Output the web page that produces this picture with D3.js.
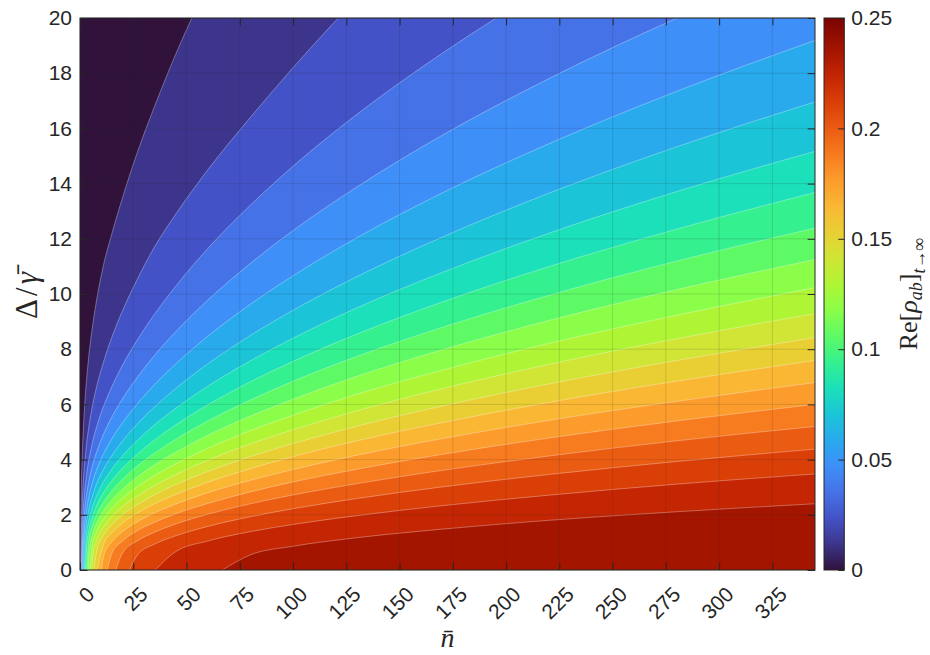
<!DOCTYPE html>
<html>
<head>
<meta charset="utf-8">
<script src="https://cdn.jsdelivr.net/npm/d3@7/dist/d3.min.js"></script>
<style>
html,body{margin:0;padding:0;background:#ffffff;}
svg{display:block;}
</style>
</head>
<body>
<svg id="chart" width="930" height="655"></svg>
<script>
// ---------------- data ----------------
const nTickValues = [0, 25, 50, 75, 100, 125, 150, 175, 200, 225, 250, 275, 300, 325];
const deltaTickValues = [0, 2, 4, 6, 8, 10, 12, 14, 16, 18, 20];
const colorbarTickValues = [0, 0.05, 0.1, 0.15, 0.2, 0.25];

// the 20 filled-contour levels of Re[rho_ab]
const contourLevels = [0.0118, 0.0235, 0.0353, 0.0470, 0.0588, 0.0706, 0.0823, 0.0941, 0.1059, 0.1176,
                       0.1294, 0.1411, 0.1529, 0.1647, 0.1764, 0.1882, 0.1999, 0.2117, 0.2235, 0.2352];

// n-bar where each level's boundary meets the bottom axis (Delta = 0)
const levelStartN = [0.21, 0.44, 0.69, 0.97, 1.29, 1.65, 2.06, 2.53, 3.08, 3.73,
                     4.50, 5.45, 6.61, 8.10, 10.07, 12.79, 16.78, 23.22, 35.38, 66.9];

// n-bar columns at which the boundary heights are read
const boundaryN = [0.3, 0.6, 1, 1.5, 2, 3, 4, 6, 8, 11, 15, 20, 27, 35, 45, 60, 80, 100, 130, 170, 220, 280, 345];

// Delta/gamma of each level boundary, for the columns after its start point
const boundaryDelta = [
  [1.45, 2.93, 4.04, 5.00, 5.73, 6.82, 7.65, 8.90, 9.87, 11.04, 12.2, 13.5, 15.15, 16.8, 18.7, 21.2, 23.9],
  [1.30, 2.35, 3.13, 3.69, 4.51, 5.11, 6.01, 6.70, 7.53, 8.44, 9.40, 10.55, 11.71, 12.9, 14.5, 16.4, 18.2, 20.7, 23.5],
  [1.39, 2.17, 2.69, 3.40, 3.92, 4.67, 5.24, 5.92, 6.65, 7.43, 8.35, 9.27, 10.29, 11.65, 13.22, 14.63, 16.51, 18.72, 21.16, 23.75],
  [0.34, 1.47, 2.00, 2.68, 3.15, 3.83, 4.32, 4.91, 5.55, 6.21, 6.99, 7.78, 8.64, 9.78, 11.11, 12.30, 13.88, 15.75, 17.80, 19.99, 22.12],
  [0.80, 1.44, 2.14, 2.59, 3.21, 3.67, 4.20, 4.76, 5.34, 6.03, 6.72, 7.47, 8.47, 9.63, 10.66, 12.04, 13.66, 15.44, 17.34, 19.19],
  [0.90, 1.68, 2.13, 2.73, 3.16, 3.64, 4.15, 4.68, 5.30, 5.91, 6.58, 7.47, 8.50, 9.41, 10.63, 12.06, 13.65, 15.33, 16.96],
  [1.25, 1.73, 2.33, 2.73, 3.19, 3.66, 4.14, 4.70, 5.26, 5.86, 6.66, 7.58, 8.40, 9.50, 10.78, 12.20, 13.71, 15.17],
  [0.80, 1.36, 1.97, 2.36, 2.80, 3.24, 3.69, 4.20, 4.71, 5.26, 5.98, 6.82, 7.56, 8.55, 9.71, 10.99, 12.35, 13.68],
  [0.98, 1.64, 2.03, 2.45, 2.87, 3.29, 3.77, 4.23, 4.74, 5.40, 6.16, 6.84, 7.74, 8.79, 9.95, 11.19, 12.39],
  [0.48, 1.31, 1.72, 2.14, 2.54, 2.93, 3.38, 3.81, 4.27, 4.88, 5.58, 6.19, 7.02, 7.98, 9.04, 10.16, 11.25],
  [0.97, 1.42, 1.84, 2.23, 2.60, 3.02, 3.42, 3.85, 4.41, 5.05, 5.61, 6.37, 7.24, 8.21, 9.23, 10.23],
  [0.54, 1.10, 1.55, 1.94, 2.30, 2.69, 3.06, 3.46, 3.98, 4.57, 5.08, 5.77, 6.57, 7.45, 8.38, 9.29],
  [0.74, 1.25, 1.65, 2.00, 2.37, 2.73, 3.10, 3.57, 4.11, 4.58, 5.21, 5.94, 6.74, 7.59, 8.42],
  [0.92, 1.35, 1.70, 2.07, 2.40, 2.74, 3.18, 3.67, 4.11, 4.68, 5.34, 6.07, 6.84, 7.59],
  [0.47, 1.02, 1.39, 1.75, 2.07, 2.39, 2.80, 3.25, 3.64, 4.16, 4.76, 5.42, 6.11, 6.79],
  [0.61, 1.05, 1.43, 1.73, 2.04, 2.41, 2.83, 3.19, 3.65, 4.19, 4.78, 5.40, 6.00],
  [0.62, 1.06, 1.37, 1.67, 2.02, 2.40, 2.72, 3.13, 3.61, 4.13, 4.68, 5.20],
  [0.55, 0.94, 1.24, 1.58, 1.93, 2.22, 2.59, 3.01, 3.46, 3.93, 4.38],
  [0.67, 1.05, 1.39, 1.65, 1.97, 2.33, 2.71, 3.11, 3.48],
  [0.55, 0.86, 1.17, 1.48, 1.80, 2.11, 2.40]
];

// turbo colours seen in the bands (band 0 .. band 20) and the top of the colour bar
const bandColors = ['#30123b', '#3d358b', '#4352c6', '#4573e7', '#3e8ff8', '#29aaed', '#1bc5d7',
                    '#1be0b9', '#34f08f', '#5dfa66', '#8bfe49', '#aff536', '#d0e535', '#e9cf34',
                    '#f9b734', '#fc9c2c', '#f77b1f', '#eb5c13', '#db3f08', '#c42604', '#a41500'];
const colormapTop = '#7a0403';

// ---------------- drawing ----------------
const sans = '"Liberation Sans", Arial, Helvetica, sans-serif';
const serif = '"Liberation Serif", "Times New Roman", serif';
const axisColor = '#262626';
const tickLen = 7.35;
const cMax = 0.25;

const svg = d3.select('#chart');
const x = d3.scaleLinear().domain([0, 345]).range([80, 815]);
const y = d3.scaleLinear().domain([0, 20]).range([570, 18]);
const cY = d3.scaleLinear().domain([0, cMax]).range([570, 18]);

const stopPositions = [0, ...contourLevels.map(l => l / cMax), 1];
const stopColors = [...bandColors, colormapTop];
const colormap = d3.scaleLinear().domain(stopPositions).range(stopColors)
  .interpolate(d3.interpolateRgb).clamp(true);

const defs = svg.append('defs');
defs.append('clipPath').attr('id', 'plotClip').append('rect')
  .attr('x', x(0)).attr('y', y(20)).attr('width', x(345) - x(0)).attr('height', y(0) - y(20));

// build boundary point lists
const boundaries = contourLevels.map((lev, i) => {
  const cols = boundaryN.filter(n => n > levelStartN[i]);
  const vals = boundaryDelta[i];
  const pts = [[levelStartN[i], 0]];
  vals.forEach((v, j) => pts.push([cols[j], v]));
  const last = pts[pts.length - 1];
  if (last[0] < 345) pts.push([345, last[1]]);
  return pts;
});

const plot = svg.append('g').attr('clip-path', 'url(#plotClip)');
plot.append('rect')
  .attr('x', x(0)).attr('y', y(20)).attr('width', x(345) - x(0)).attr('height', y(0) - y(20))
  .attr('fill', colormap(0));

const area = d3.area().x(d => x(d[0])).y0(y(0)).y1(d => y(d[1])).curve(d3.curveMonotoneX);
const line = d3.line().x(d => x(d[0])).y(d => y(d[1])).curve(d3.curveMonotoneX);

boundaries.forEach((pts, i) => {
  plot.append('path').datum(pts).attr('d', area)
    .attr('fill', colormap(contourLevels[i] / cMax)).attr('stroke', 'none');
});
boundaries.forEach(pts => {
  plot.append('path').datum(pts).attr('d', line)
    .attr('fill', 'none').attr('stroke', '#ffffff').attr('stroke-opacity', 0.45).attr('stroke-width', 0.7);
});

// grid
const grid = svg.append('g');
grid.selectAll('line.gx').data(nTickValues).join('line').attr('class', 'gx')
  .attr('x1', d => x(d)).attr('x2', d => x(d)).attr('y1', y(0)).attr('y2', y(20))
  .attr('stroke', axisColor).attr('stroke-opacity', 0.15).attr('stroke-width', 1);
grid.selectAll('line.gy').data(deltaTickValues).join('line').attr('class', 'gy')
  .attr('x1', x(0)).attr('x2', x(345)).attr('y1', d => y(d)).attr('y2', d => y(d))
  .attr('stroke', axisColor).attr('stroke-opacity', 0.15).attr('stroke-width', 1);

// axes (ticks inside)
function styleAxis(g) {
  g.select('.domain').remove();
  g.selectAll('.tick line').attr('stroke', axisColor).attr('stroke-width', 1);
  g.selectAll('.tick text').attr('fill', axisColor).attr('font-family', sans).attr('font-size', 21);
}
svg.append('g').attr('transform', `translate(0,${y(0)})`)
  .call(d3.axisBottom(x).tickValues(nTickValues).tickSize(-tickLen).tickFormat(''))
  .call(styleAxis);
svg.append('g').attr('transform', `translate(0,${y(20)})`)
  .call(d3.axisTop(x).tickValues(nTickValues).tickSize(-tickLen).tickFormat(''))
  .call(styleAxis);
svg.append('g').attr('transform', `translate(${x(0)},0)`)
  .call(d3.axisLeft(y).tickValues(deltaTickValues).tickSize(-tickLen).tickPadding(8).tickFormat(d3.format('d')))
  .call(styleAxis);
svg.append('g').attr('transform', `translate(${x(345)},0)`)
  .call(d3.axisRight(y).tickValues(deltaTickValues).tickSize(-tickLen).tickFormat(''))
  .call(styleAxis);

// rotated x tick labels
svg.append('g').selectAll('text').data(nTickValues).join('text')
  .attr('transform', d => `translate(${x(d) + 10.5},590.5) rotate(-45)`)
  .attr('text-anchor', 'end').attr('dominant-baseline', 'central')
  .attr('font-family', sans).attr('font-size', 21).attr('fill', axisColor)
  .text(d => d);

// box
svg.append('rect').attr('x', x(0)).attr('y', y(20)).attr('width', x(345) - x(0)).attr('height', y(0) - y(20))
  .attr('fill', 'none').attr('stroke', axisColor).attr('stroke-width', 1);

// axis labels
svg.append('text').attr('x', (x(0) + x(345)) / 2).attr('y', 647).attr('text-anchor', 'middle')
  .attr('font-family', serif).attr('font-style', 'italic').attr('font-size', 28).attr('fill', axisColor)
  .text('n\u0304');
const yl = svg.append('text').attr('transform', `translate(37,${(y(0) + y(20)) / 2}) rotate(-90)`)
  .attr('text-anchor', 'middle').attr('font-family', serif).attr('font-size', 31)
  .attr('letter-spacing', 3).attr('fill', axisColor);
yl.append('tspan').text('\u0394/');
yl.append('tspan').attr('font-style', 'italic').text('\u03b3\u0304');

// colour bar
const cbX = 824, cbW = 20.3;
const grad = defs.append('linearGradient').attr('id', 'cbGrad')
  .attr('x1', 0).attr('y1', 1).attr('x2', 0).attr('y2', 0);
stopPositions.forEach((p, i) => grad.append('stop').attr('offset', p).attr('stop-color', stopColors[i]));
svg.append('rect').attr('x', cbX).attr('y', cY(cMax)).attr('width', cbW).attr('height', cY(0) - cY(cMax))
  .attr('fill', 'url(#cbGrad)').attr('stroke', axisColor).attr('stroke-width', 1);
svg.append('g').attr('transform', `translate(${cbX + cbW},0)`)
  .call(d3.axisRight(cY).tickValues(colorbarTickValues).tickSize(-6).tickPadding(7).tickFormat(d => String(d)))
  .call(styleAxis);

const cl = svg.append('text').attr('transform', `translate(917,${(cY(0) + cY(cMax)) / 2}) rotate(-90)`)
  .attr('text-anchor', 'middle').attr('font-family', serif).attr('font-size', 26).attr('fill', axisColor);
cl.append('tspan').text('Re[');
cl.append('tspan').attr('font-style', 'italic').text('\u03c1');
cl.append('tspan').attr('font-style', 'italic').attr('font-size', 18).attr('dy', 5).text('ab');
cl.append('tspan').attr('dy', -5).text(']');
cl.append('tspan').attr('font-style', 'italic').attr('font-size', 18).attr('dy', 8).text('t\u2192\u221e');
</script>
</body>
</html>
